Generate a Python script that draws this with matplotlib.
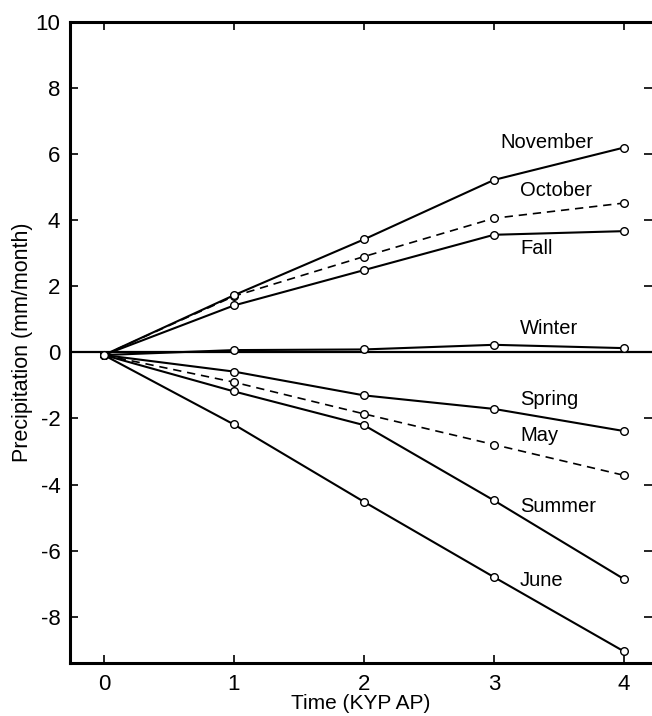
import matplotlib.pyplot as plt

plt.rcParams['font.family'] = ['Liberation Sans', 'DejaVu Sans']
plt.rcParams['axes.unicode_minus'] = False

# time in KYP AP and precipitation changes (mm/month)
time = [0, 1, 2, 3, 4]
november = [-0.08, 1.73, 3.42, 5.22, 6.2]
october = [-0.08, 1.7, 2.9, 4.06, 4.52]
fall = [-0.08, 1.42, 2.49, 3.56, 3.67]
winter = [-0.08, 0.07, 0.09, 0.23, 0.13]
spring = [-0.08, -0.58, -1.3, -1.71, -2.38]
may = [-0.08, -0.9, -1.86, -2.79, -3.72]
summer = [-0.08, -1.18, -2.2, -4.48, -6.86]
june = [-0.08, -2.18, -4.52, -6.8, -9.05]

series = [
    ('November', november, '-', (3.05, 6.35)),
    ('October', october, '--', (3.2, 4.9)),
    ('Fall', fall, '-', (3.2, 3.15)),
    ('Winter', winter, '-', (3.2, 0.72)),
    ('Spring', spring, '-', (3.2, -1.42)),
    ('May', may, '--', (3.2, -2.5)),
    ('Summer', summer, '-', (3.2, -4.67)),
    ('June', june, '-', (3.2, -6.9)),
]

fig = plt.figure(figsize=(6.52, 7.16), dpi=100)
ax = fig.add_axes([0.1074, 0.074, 0.8926, 0.8953])

ax.axhline(0, color='black', lw=1.6, zorder=1)

for name, vals, ls, (tx, ty) in series:
    if ls == '--':
        ax.plot(time, vals, color='black', lw=1.2, ls=(0, (5, 3.5)), marker='o',
                ms=5.5, mfc='white', mec='black', mew=1.0, zorder=2)
    else:
        ax.plot(time, vals, color='black', lw=1.5, ls='-', marker='o',
                ms=5.5, mfc='white', mec='black', mew=1.0, zorder=3)
    ax.text(tx, ty, name, fontsize=14.5, ha='left', va='center')

ax.set_xlim(-0.26, 4.215)
ax.set_ylim(-9.4, 10)
ax.set_xticks(time)
ax.set_yticks([-8, -6, -4, -2, 0, 2, 4, 6, 8, 10])
ax.tick_params(direction='in', length=6, width=1.2, labelsize=16,
               top=True, right=True, pad=7)
ax.tick_params(axis='x', pad=8)
for side in ['left', 'bottom', 'top']:
    ax.spines[side].set_linewidth(2.2)
ax.spines['right'].set_visible(False)

ax.set_xlabel('Time (KYP AP)', fontsize=15, labelpad=-1)
ax.set_ylabel('Precipitation (mm/month)', fontsize=15.5, labelpad=2)

plt.savefig('out.png', dpi=100)
